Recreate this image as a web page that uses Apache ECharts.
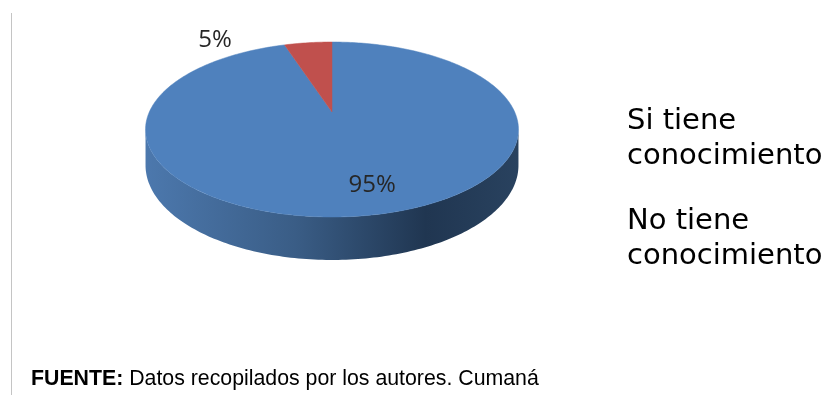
<!DOCTYPE html>
<html lang="es">
<head>
    <meta charset="UTF-8">
    <title>Conocimiento</title>
    <script src="https://cdn.jsdelivr.net/npm/echarts@6.0.0/dist/echarts.min.js"></script>
    <style>
        html, body { margin: 0; padding: 0; background: #fff; }
        #container { width: 827px; height: 415px; }
    </style>
</head>
<body>
<div id="container"></div>

<script type="text/javascript">
    // data
    var categories = ['Si tiene conocimiento', 'No tiene conocimiento'];
    var values = [95, 5];
    var sliceLabels = ['95%', '5%'];
    var sourceBold = 'FUENTE:';
    var sourceText = 'Datos recopilados por los autores. Cumaná';

    // look of the 3d disc (perspective ellipse)
    var CX = 332, CY = 112;      // projected centre of the disc
    var RX = 182.7, RY = 84;     // radii before perspective
    var K = 0.2;                 // perspective strength
    var DEPTH = 34.4;            // thickness of the disc
    var topColors = ['#4f81bd', '#c0504d'];
    var labelRadius = [0.75, 1];
    var labelShift = [[15, 0], [-93, -3]];

    var total = values.reduce(function (a, b) { return a + b; }, 0);

    // a = clockwise angle from 12 o'clock (deg), r = radius 0..1, drop = wall offset
    function proj(a, r, drop) {
        var rad = a * Math.PI / 180;
        var u = Math.sin(rad) * r;
        var w = -Math.cos(rad) * r;
        var s = 1 / (1 - K * w);
        return [CX + RX * u * s, CY + RY * w * s + drop * s];
    }

    // the wall can only be seen where the rim faces the viewer
    var wallFrom = Math.acos(-K) * 180 / Math.PI;
    var wallTo = 360 - wallFrom;

    var sideGradient = new echarts.graphic.LinearGradient(146, 0, 519, 0, [
        { offset: 0, color: '#4c78ad' },
        { offset: 0.4, color: '#3a5d86' },
        { offset: 0.75, color: '#203651' },
        { offset: 1, color: '#29425f' }
    ], true);

    function renderSlice(params, api) {
        var i = params.dataIndex;
        var start = 0;
        for (var k = 0; k < i; k++) start += values[k] / total * 360;
        var end = start + api.value(0) / total * 360;
        var children = [];

        // side wall
        var a0 = Math.max(start, wallFrom), a1 = Math.min(end, wallTo);
        if (a1 > a0) {
            var side = [];
            var a;
            for (a = a0; a < a1; a += 1) side.push(proj(a, 1, 0));
            side.push(proj(a1, 1, 0));
            for (a = a1; a > a0; a -= 1) side.push(proj(a, 1, DEPTH));
            side.push(proj(a0, 1, DEPTH));
            children.push({
                type: 'polygon',
                z2: 1,
                shape: { points: side },
                style: { fill: sideGradient, stroke: null }
            });
        }

        // top face
        var pts = [proj(0, 0, 0)];
        for (var b = start; b < end; b += 1) pts.push(proj(b, 1, 0));
        pts.push(proj(end, 1, 0));
        children.push({
            type: 'polygon',
            z2: 10,
            shape: { points: pts },
            style: { fill: topColors[i], stroke: topColors[i], lineWidth: 0.5 }
        });

        // label
        var mid = (start + end) / 2;
        var p = proj(mid, labelRadius[i], 0);
        children.push({
            type: 'text',
            z2: 20,
            x: p[0] + labelShift[i][0],
            y: p[1] + labelShift[i][1],
            style: {
                text: sliceLabels[i],
                fontFamily: 'Open Sans',
                fontSize: 24,
                fill: '#262626',
                align: 'center',
                verticalAlign: 'middle'
            }
        });

        return { type: 'group', children: children };
    }

    var legendItems = categories.map(function (name, idx) {
        var parts = name.split(' ');
        return {
            type: 'text',
            left: 627,
            top: 104 + idx * 100,
            style: {
                text: parts.slice(0, 2).join(' ') + '\n' + parts.slice(2).join(' '),
                fontFamily: 'DejaVu Sans',
                fontSize: 29,
                lineHeight: 35,
                fill: '#000'
            }
        };
    });

    var dom = document.getElementById('container');
    var myChart = echarts.init(dom, null, { renderer: 'canvas' });

    var option = {
        backgroundColor: '#fff',
        animation: false,
        graphic: [
            {
                type: 'line',
                shape: { x1: 11.5, y1: 13, x2: 11.5, y2: 395 },
                style: { stroke: '#c4c4c4', lineWidth: 1 }
            },
            {
                type: 'text',
                x: 31,
                y: 379,
                style: {
                    text: '{b|' + sourceBold + '} ' + sourceText,
                    fontFamily: 'Liberation Sans',
                    fontSize: 21.3,
                    fill: '#000',
                    verticalAlign: 'middle',
                    rich: {
                        b: { fontFamily: 'Liberation Sans', fontSize: 21.3, fontWeight: 'bold', fill: '#000' }
                    }
                }
            }
        ].concat(legendItems),
        series: [
            {
                type: 'custom',
                coordinateSystem: 'none',
                renderItem: renderSlice,
                data: values.map(function (v, idx) { return { name: categories[idx], value: [v] }; })
            }
        ]
    };

    myChart.setOption(option);
    window.addEventListener('resize', myChart.resize);
</script>
</body>
</html>
